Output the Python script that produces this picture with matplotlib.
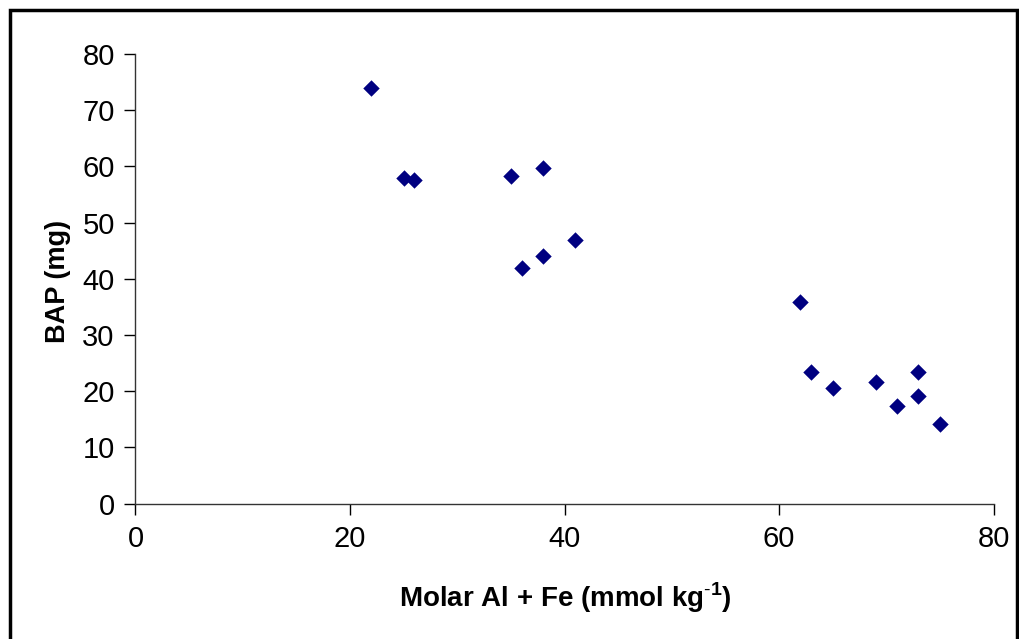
import matplotlib
matplotlib.use("Agg")
import matplotlib.pyplot as plt
from matplotlib.patches import Rectangle

# =====================
# 데이터
# =====================
molar_al_fe = [22, 25, 26, 35, 38, 41, 38, 36,
               62, 63, 65, 69, 71, 73, 73, 75]
bap_mg = [73.9, 57.9, 57.5, 58.3, 59.7, 46.9, 44.1, 41.9,
          35.9, 23.4, 20.6, 21.6, 17.4, 23.4, 19.2, 14.2]

x_ticks = [0, 20, 40, 60, 80]
y_ticks = [0, 10, 20, 30, 40, 50, 60, 70, 80]

plt.rcParams['font.family'] = ['Liberation Sans', 'DejaVu Sans']
plt.rcParams['mathtext.fontset'] = 'custom'
plt.rcParams['mathtext.rm'] = 'Liberation Sans'
plt.rcParams['mathtext.bf'] = 'Liberation Sans:bold'

fig = plt.figure(figsize=(10.2, 6.39), dpi=100)
ax = fig.add_axes([135.5 / 1020, 1 - 503.7 / 639, (993.5 - 135.5) / 1020, (503.7 - 54) / 639])

ax.scatter(molar_al_fe, bap_mg, marker='D', s=70, color='#000080', linewidths=0, zorder=3)

ax.set_xlim(0, 80)
ax.set_ylim(0, 80)
ax.set_xticks(x_ticks)
ax.set_yticks(y_ticks)
ax.tick_params(labelsize=21, direction='out', length=8, width=1, pad=7)
ax.spines['top'].set_visible(False)
ax.spines['right'].set_visible(False)
for s in ['left', 'bottom']:
    ax.spines[s].set_linewidth(1)
    ax.spines[s].set_color('#333333')

fig.text(565 / 1020, 1 - 598 / 639, r'Molar Al + Fe (mmol kg$^{\mathbf{\text{-}1}}$)',
         ha='center', va='center', fontsize=20, fontweight='bold')
fig.text(58 / 1020, 1 - 281 / 639, 'BAP (mg)', rotation=90,
         ha='center', va='center', fontsize=19.5, fontweight='bold')

# 바깥 테두리 (아래쪽은 그림 밖으로)
fig.patches.append(Rectangle((10 / 1020, -10 / 639), 1007 / 1020, 639 / 639,
                             transform=fig.transFigure, fill=False,
                             edgecolor='black', linewidth=2.5, clip_on=False))

fig.savefig('out.png', dpi=100)
